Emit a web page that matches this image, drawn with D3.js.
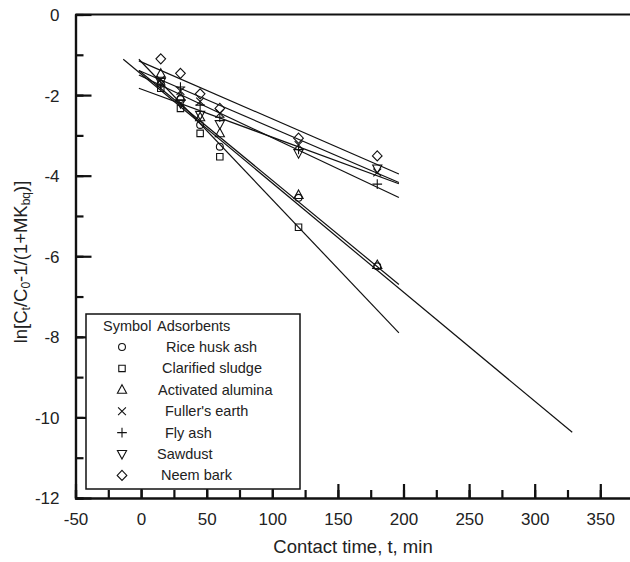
<!DOCTYPE html>
<html>
<head>
<meta charset="utf-8">
<script src="https://cdnjs.cloudflare.com/ajax/libs/d3/7.8.5/d3.min.js"></script>
<style>
  html, body { margin: 0; padding: 0; background: #fff; }
  svg { display: block; }
  text { font-family: "Liberation Sans", Arial, sans-serif; fill: #222; }
</style>
</head>
<body>
<svg id="chart" width="630" height="562"></svg>
<script>
// ---------- data ----------
const times = [15, 30, 45, 60, 120, 180];
const seriesNames = ["Rice husk ash", "Clarified sludge", "Activated alumina", "Fuller's earth", "Fly ash", "Sawdust", "Neem bark"];
const seriesSymbols = ["circle", "square", "triUp", "cross", "plus", "triDown", "diamond"];
const riceHuskAsh = [-1.72, -2.10, -2.74, -3.28, -4.55, -6.25];
const clarifiedSludge = [-1.83, -2.33, -2.95, -3.53, -5.28];
const activatedAlumina = [-1.47, -2.05, -2.55, -2.95, -4.48, -6.22];
const fullersEarth = [-1.62, -1.90, -2.16, -2.45, -3.24, -3.92];
const flyAsh = [-1.75, -1.80, -2.25, -2.55, -3.35, -4.21];
const sawdust = [-1.67, -2.20, -2.49, -2.72, -3.44, -3.82];
const neemBark = [-1.10, -1.46, -1.97, -2.33, -3.07, -3.51];
// fitted lines: [t start, value start, t end, value end]
const fitRiceHuskAsh = [-13.6, -1.11, 328.6, -10.37];
const fitClarifiedSludge = [-1.7, -1.11, 196.5, -7.90];
const fitActivatedAlumina = [-1.7, -1.39, 196.5, -6.70];
const fitFullersEarth = [-1.7, -1.39, 196.5, -4.17];
const fitFlyAsh = [-1.7, -1.50, 196.5, -4.54];
const fitSawdust = [-1.7, -1.83, 196.5, -4.20];
const fitNeemBark = [-1.7, -1.15, 196.5, -3.96];
const xTicks = [-50, 0, 50, 100, 150, 200, 250, 300, 350];
const yTicks = [0, -2, -4, -6, -8, -10, -12];

const seriesValues = [riceHuskAsh, clarifiedSludge, activatedAlumina, fullersEarth, flyAsh, sawdust, neemBark];
const seriesFits = [fitRiceHuskAsh, fitClarifiedSludge, fitActivatedAlumina, fitFullersEarth, fitFlyAsh, fitSawdust, fitNeemBark];

// ---------- layout ----------
const svg = d3.select("#chart");
const x = d3.scaleLinear().domain([-50, 400]).range([75.5, 665.9]);
const y = d3.scaleLinear().domain([0, -12]).range([14.5, 498]);
const plainFmt = d => String(d);

function markerPath(type, s) {
  const p = d3.path();
  if (type === "circle") { p.moveTo(s * 0.75, 0); p.arc(0, 0, s * 0.75, 0, 2 * Math.PI); }
  else if (type === "square") { const h = s * 0.7; p.rect(-h, -h, 2 * h, 2 * h); }
  else if (type === "triUp") { p.moveTo(0, -s * 1.1); p.lineTo(s, s * 0.75); p.lineTo(-s, s * 0.75); p.closePath(); }
  else if (type === "triDown") { p.moveTo(0, s * 1.1); p.lineTo(s, -s * 0.75); p.lineTo(-s, -s * 0.75); p.closePath(); }
  else if (type === "diamond") { p.moveTo(0, -s * 1.1); p.lineTo(s * 1.05, 0); p.lineTo(0, s * 1.1); p.lineTo(-s * 1.05, 0); p.closePath(); }
  else if (type === "cross") { const h = s * 0.85; p.moveTo(-h, -h); p.lineTo(h, h); p.moveTo(h, -h); p.lineTo(-h, h); }
  else if (type === "plus") { const h = s * 1.05; p.moveTo(-h, 0); p.lineTo(h, 0); p.moveTo(0, -h); p.lineTo(0, h); }
  return p.toString();
}

// ---------- fit lines ----------
const gLines = svg.append("g");
seriesFits.forEach(f => {
  gLines.append("line")
    .attr("x1", x(f[0])).attr("y1", y(f[1]))
    .attr("x2", x(f[2])).attr("y2", y(f[3]))
    .attr("stroke", "#111").attr("stroke-width", 1.2);
});

// ---------- markers ----------
const gPts = svg.append("g");
seriesValues.forEach((vals, i) => {
  vals.forEach((v, j) => {
    gPts.append("path")
      .attr("d", markerPath(seriesSymbols[i], 4.6))
      .attr("transform", `translate(${x(times[j])},${y(v)})`)
      .attr("fill", "none")
      .attr("stroke", "#111").attr("stroke-width", 1.1);
  });
});

// ---------- axes ----------
const xMinor = d3.range(-50, 400, 25);
const yMinor = d3.range(0, -12.5, -1);

const xAxisMinor = d3.axisBottom(x).tickValues(xMinor).tickSize(-8).tickFormat("");
const xAxis = d3.axisBottom(x).tickValues(xTicks).tickSize(-14).tickSizeOuter(0).tickPadding(22).tickFormat(plainFmt);
const yAxisMinor = d3.axisLeft(y).tickValues(yMinor).tickSize(-8).tickFormat("");
const yAxis = d3.axisLeft(y).tickValues(yTicks).tickSize(-16).tickSizeOuter(0).tickPadding(30).tickFormat(plainFmt);

function styleAxis(g) {
  g.select(".domain").attr("stroke", "#111").attr("stroke-width", 2.2);
  g.selectAll(".tick line").attr("stroke", "#111").attr("stroke-width", 2.2);
  g.selectAll(".tick text").attr("font-size", 17).attr("fill", "#222")
    .attr("font-family", "'Liberation Sans', Arial, sans-serif");
}

svg.append("g").attr("transform", `translate(0,${y(-12)})`).call(xAxisMinor).call(styleAxis);
svg.append("g").attr("transform", `translate(0,${y(-12)})`).call(xAxis).call(styleAxis)
  .selectAll(".tick text").attr("dy", "0.3em");
svg.append("g").attr("transform", `translate(${x(-50)},0)`).call(yAxisMinor).call(styleAxis);
svg.append("g").attr("transform", `translate(${x(-50)},0)`).call(yAxis).call(styleAxis)
  .selectAll(".tick text").attr("dy", "0.35em").attr("dx", "14");

// top frame line
svg.append("line").attr("x1", x(-50)).attr("x2", 640).attr("y1", y(0)).attr("y2", y(0))
  .attr("stroke", "#111").attr("stroke-width", 2.2);

// ---------- axis titles ----------
svg.append("text").attr("x", 353).attr("y", 553).attr("text-anchor", "middle")
  .attr("font-size", 18.5).text("Contact time, t, min");

const yt = svg.append("text").attr("transform", "translate(27,262) rotate(-90)")
  .attr("text-anchor", "middle").attr("font-size", 18.5);
[["ln[C", 0], ["t", 1], ["/C", 0], ["0", 1], ["-1/(1+MK", 0], ["bq", 1], [")]", 0]].forEach(([t, sub]) => {
  const ts = yt.append("tspan").text(t);
  if (sub) ts.attr("font-size", 12).attr("baseline-shift", "-25%");
});

// ---------- legend ----------
const lg = svg.append("g");
lg.append("rect").attr("x", 86).attr("y", 314).attr("width", 214).attr("height", 175)
  .attr("fill", "white").attr("stroke", "#111").attr("stroke-width", 1.5);
lg.append("text").attr("x", 103).attr("y", 331).attr("font-size", 14.5).text("Symbol");
lg.append("text").attr("x", 157).attr("y", 331).attr("font-size", 14.5).text("Adsorbents");
const legendTextX = [166, 162, 158, 165, 165, 157, 161];
seriesNames.forEach((name, i) => {
  const cy = 347 + i * 21.4;
  lg.append("path").attr("d", markerPath(seriesSymbols[i], 4.6))
    .attr("transform", `translate(122,${cy})`)
    .attr("fill", "none").attr("stroke", "#111").attr("stroke-width", 1.1);
  lg.append("text").attr("x", legendTextX[i]).attr("y", cy + 5).attr("font-size", 14.5).text(name);
});
</script>
</body>
</html>
